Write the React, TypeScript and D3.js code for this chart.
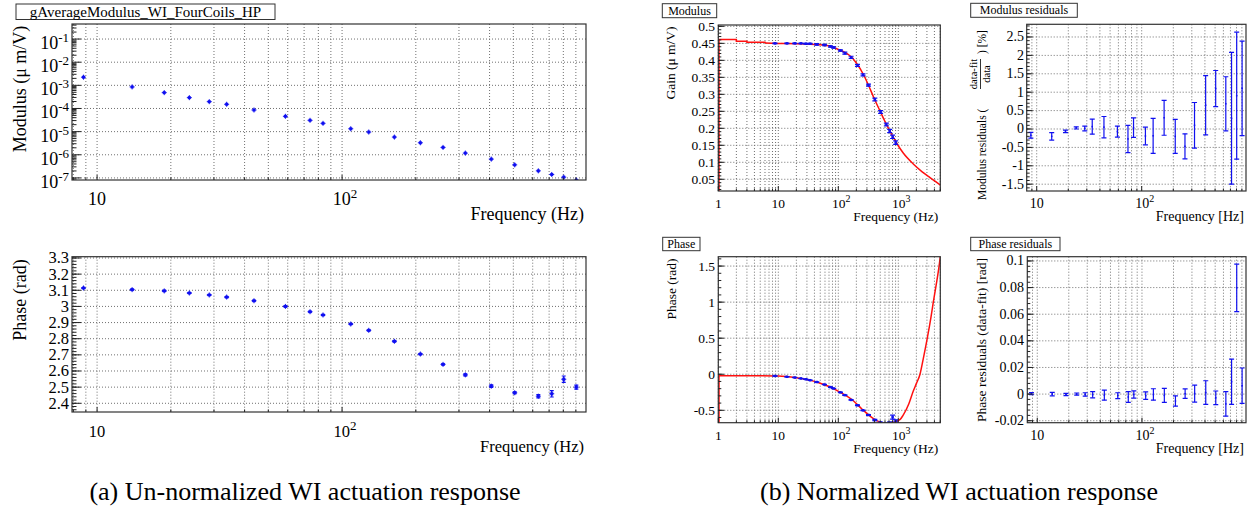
import React from 'react';
import * as d3 from 'd3';

// ---------- data ----------
const FREQ = [8.8, 13.9, 18.8, 23.8, 28.7, 33.8, 43.7, 58.7, 74.0, 83.6, 108.5, 128.5, 163.5, 208.7, 258.3, 318.5, 406.5, 506.6, 632.5, 717.5, 803.2, 904.0];
const RAW_MODULUS = [2.25e-3, 8.55e-4, 4.84e-4, 2.94e-4, 1.97e-4, 1.52e-4, 8.6e-5, 4.59e-5, 3.08e-5, 2.28e-5, 1.33e-5, 9.6e-6, 5.82e-6, 3.3e-6, 2.08e-6, 1.18e-6, 6.5e-7, 3.67e-7, 2.02e-7, 1.41e-7, 1.08e-7, 8.0e-8];
const RAW_PHASE = [3.114, 3.104, 3.096, 3.083, 3.071, 3.058, 3.035, 3.0, 2.967, 2.947, 2.891, 2.852, 2.784, 2.705, 2.641, 2.576, 2.506, 2.465, 2.444, 2.459, 2.549, 2.5];
const RAW_PHASE_ERR = [0.003, 0.003, 0.003, 0.002, 0.003, 0.003, 0.003, 0.003, 0.003, 0.003, 0.003, 0.003, 0.004, 0.003, 0.004, 0.006, 0.008, 0.006, 0.010, 0.020, 0.020, 0.012];

const NORM_GAIN = [0.450, 0.450, 0.450, 0.450, 0.449, 0.449, 0.447, 0.445, 0.441, 0.438, 0.429, 0.421, 0.409, 0.385, 0.357, 0.327, 0.285, 0.248, 0.211, 0.192, 0.175, 0.158];
const NORM_GAIN_ERR = [0.001, 0.001, 0.001, 0.001, 0.001, 0.001, 0.002, 0.002, 0.002, 0.002, 0.002, 0.003, 0.003, 0.003, 0.003, 0.003, 0.004, 0.004, 0.004, 0.005, 0.005, 0.005];
const NORM_PHASE = [-0.024, -0.035, -0.046, -0.058, -0.070, -0.083, -0.108, -0.143, -0.178, -0.197, -0.251, -0.290, -0.356, -0.430, -0.500, -0.565, -0.634, -0.668, -0.685, -0.681, -0.595, -0.649];
const NORM_PHASE_ERR = [0.002, 0.002, 0.002, 0.002, 0.002, 0.003, 0.004, 0.003, 0.004, 0.003, 0.003, 0.004, 0.005, 0.004, 0.004, 0.006, 0.009, 0.006, 0.010, 0.020, 0.028, 0.015];

const GAIN_STEP_F = [1, 2, 2, 3, 3, 6, 6];
const GAIN_STEP_V = [0.461, 0.461, 0.456, 0.456, 0.453, 0.453, 0.451];
const GAIN_FIT_F = [6, 10, 20, 30, 50, 73, 100, 130, 167, 200, 261, 300, 398, 496, 600, 776, 940, 1200, 1778, 2500, 3377, 4200, 5012];
const GAIN_FIT_V = [0.451, 0.4498, 0.449, 0.448, 0.446, 0.442, 0.432, 0.423, 0.409, 0.392, 0.359, 0.337, 0.287, 0.251, 0.220, 0.182, 0.156, 0.128, 0.095, 0.072, 0.055, 0.043, 0.033];
const PHASE_FIT_F = [1, 5, 10, 20, 30, 50, 70, 106, 178, 250, 338, 400, 500, 641, 800, 1075, 1200, 1500, 1778, 2000, 2300, 2600, 3042, 3500, 3831, 4300, 4766, 5012];
const PHASE_FIT_V = [-0.020, -0.022, -0.025, -0.049, -0.073, -0.124, -0.170, -0.247, -0.368, -0.485, -0.580, -0.625, -0.664, -0.684, -0.670, -0.625, -0.570, -0.410, -0.233, -0.130, 0.0, 0.21, 0.50, 0.79, 1.00, 1.25, 1.49, 1.63];

const MOD_RES = [-0.17, -0.20, -0.065, 0.03, 0.015, 0.065, 0.05, -0.07, -0.27, 0.035, -0.19, -0.185, 0.305, -0.20, -0.47, 0.10, 0.645, 1.10, 0.685, 0.29, 0.905, 1.105];
const MOD_RES_ERR = [0.08, 0.10, 0.035, 0.03, 0.065, 0.205, 0.29, 0.15, 0.37, 0.265, 0.24, 0.475, 0.475, 0.46, 0.34, 0.62, 0.805, 0.49, 0.735, 1.79, 1.725, 1.285];
const PHASE_RES = [0.0003, 0, -0.0003, 0, -0.0003, -0.0005, -0.0008, -0.0012, -0.0022, -0.0003, -0.0012, -0.0003, -0.001, -0.0052, 0.0003, 0.0004, 0.0011, -0.0028, -0.0074, 0.0093, 0.0798, 0.0063];
const PHASE_RES_ERR = [0.0008, 0.0013, 0.0008, 0.0008, 0.0013, 0.0023, 0.0038, 0.0022, 0.004, 0.0027, 0.0028, 0.0043, 0.0053, 0.0039, 0.0036, 0.0064, 0.0089, 0.0051, 0.0092, 0.017, 0.0178, 0.0133];

const MOD_EXP_TICKS = [-1, -2, -3, -4, -5, -6, -7];
const RAW_PHASE_TICKS = [2.4, 2.5, 2.6, 2.7, 2.8, 2.9, 3.0, 3.1, 3.2, 3.3];
const GAIN_TICKS = [0.05, 0.1, 0.15, 0.2, 0.25, 0.3, 0.35, 0.4, 0.45, 0.5];
const NPHASE_TICKS = [-0.5, 0, 0.5, 1, 1.5];
const MODRES_TICKS = [-1.5, -1, -0.5, 0, 0.5, 1, 1.5, 2, 2.5];
const PHASERES_TICKS = [-0.02, 0, 0.02, 0.04, 0.06, 0.08, 0.1];

const FONT = "'Liberation Serif', 'DejaVu Serif', serif";
const BLUE = '#1010f0';
const RED = '#ff1010';
const GRIDC = '#707070';

type Lbl = { v: number; base: string; exp?: string };

function logAll(lo: number, hi: number) {
  const out: number[] = [];
  for (let d = Math.floor(Math.log10(lo)) - 1; d <= Math.ceil(Math.log10(hi)); d++) {
    for (let k = 1; k <= 9; k++) {
      const v = k * Math.pow(10, d);
      if (v >= lo * 0.9999 && v <= hi * 1.0001) out.push(v);
    }
  }
  return out;
}
function subTicks(major: number[], lo: number, hi: number, n: number) {
  const step = (major[1] - major[0]) / n;
  const out: number[] = [];
  const start = Math.ceil((lo - major[0]) / step - 1e-9);
  for (let i = start; major[0] + i * step <= hi + 1e-9; i++) out.push(major[0] + i * step);
  return out;
}

type PanelProps = {
  id: string; x0: number; y0: number; x1: number; y1: number;
  xDom: [number, number]; yLog?: boolean; yDom: [number, number];
  yMajor: number[]; yMinor: number[]; yLabels: Lbl[]; xLabels: Lbl[];
  fs: number; supFs: number; supDy: number;
  yTick: number; xTick: number; yLabRight: number; yLabDy: number; xLabBase: number;
  xTitle: string; xTitleBase: number;
  children?: (x: (v: number) => number, y: (v: number) => number) => React.ReactNode;
};

function Panel(p: PanelProps) {
  const x = d3.scaleLog().domain(p.xDom).range([p.x0, p.x1]);
  const y = (p.yLog ? d3.scaleLog() : d3.scaleLinear()).domain(p.yDom).range([p.y1, p.y0]) as any;
  const xs = logAll(p.xDom[0], p.xDom[1]);
  const xMaj = xs.filter((v) => Math.abs(Math.log10(v) - Math.round(Math.log10(v))) < 1e-6);
  const yMajor = p.yMajor;
  return (
    <g>
      <defs>
        <clipPath id={p.id}>
          <rect x={p.x0} y={p.y0} width={p.x1 - p.x0} height={p.y1 - p.y0} />
        </clipPath>
      </defs>
      <g stroke={GRIDC} strokeWidth={1} strokeDasharray="1,2">
        {xs.map((v, i) => (
          <line key={'gx' + i} x1={x(v)} x2={x(v)} y1={p.y0} y2={p.y1} />
        ))}
        {yMajor.map((v, i) => (
          <line key={'gy' + i} x1={p.x0} x2={p.x1} y1={y(v)} y2={y(v)} />
        ))}
      </g>
      <g clipPath={`url(#${p.id})`}>{p.children ? p.children(x, y) : null}</g>
      <rect x={p.x0} y={p.y0} width={p.x1 - p.x0} height={p.y1 - p.y0} fill="none" stroke="#333" strokeWidth={1.2} />
      <g stroke="#222" strokeWidth={1}>
        {xs.map((v, i) => {
          const major = xMaj.includes(v);
          return <line key={'tx' + i} x1={x(v)} x2={x(v)} y1={p.y1} y2={p.y1 - (major ? p.xTick : p.xTick / 2)} />;
        })}
        {yMajor.map((v, i) => (
          <line key={'ty' + i} x1={p.x0} x2={p.x0 + p.yTick} y1={y(v)} y2={y(v)} />
        ))}
        {p.yMinor.map((v, i) => (
          <line key={'tm' + i} x1={p.x0} x2={p.x0 + p.yTick / 2} y1={y(v)} y2={y(v)} />
        ))}
      </g>
      <g fontSize={p.fs} fill="#000">
        {p.yLabels.map((l, i) => (
          <text key={'yl' + i} x={p.yLabRight} y={y(l.v) + p.yLabDy} textAnchor="end">
            <tspan>{l.base}</tspan>
            {l.exp ? (
              <tspan dy={-p.supDy} fontSize={p.supFs}>{l.exp}</tspan>
            ) : null}
          </text>
        ))}
        {p.xLabels.map((l, i) => (
          <text key={'xl' + i} x={x(l.v) + (l.exp ? 3 : 0)} y={p.xLabBase} textAnchor="middle">
            <tspan>{l.base}</tspan>
            {l.exp ? (
              <tspan dy={-p.supDy} fontSize={p.supFs}>{l.exp}</tspan>
            ) : null}
          </text>
        ))}
        <text x={p.x1 - 2} y={p.xTitleBase} textAnchor="end">{p.xTitle}</text>
      </g>
    </g>
  );
}

function ErrBars(props: {
  x: (v: number) => number; y: (v: number) => number;
  xs: number[]; ys: number[]; es: number[]; cap: number; color: string; marker?: number; width?: number;
}) {
  const { x, y, xs, ys, es, cap, color } = props;
  const m = props.marker ?? 0;
  return (
    <g stroke={color} strokeWidth={props.width ?? 1.2} fill={color}>
      {xs.map((f, i) => {
        const cx = x(f);
        const top = y(ys[i] + es[i]);
        const bot = y(ys[i] - es[i]);
        const cy = y(ys[i]);
        return (
          <g key={i}>
            <line x1={cx} x2={cx} y1={top} y2={bot} />
            <line x1={cx - cap} x2={cx + cap} y1={top} y2={top} />
            <line x1={cx - cap} x2={cx + cap} y1={bot} y2={bot} />
            {m > 0 ? <rect x={cx - m / 2} y={cy - m / 2} width={m} height={m} stroke="none" /> : null}
          </g>
        );
      })}
    </g>
  );
}

function CrossMarkers(props: { x: (v: number) => number; y: (v: number) => number; xs: number[]; ys: number[] }) {
  const { x, y, xs, ys } = props;
  return (
    <g stroke={BLUE} fill={BLUE} strokeWidth={1}>
      {xs.map((f, i) => {
        const cx = x(f);
        const cy = y(ys[i]);
        return (
          <g key={i}>
            <rect x={cx - 1.5} y={cy - 1.5} width={3} height={3} stroke="none" />
            <line x1={cx - 2.5} x2={cx + 2.5} y1={cy} y2={cy} />
            <line x1={cx} x2={cx} y1={cy - 2.5} y2={cy + 2.5} />
          </g>
        );
      })}
    </g>
  );
}

function Fit(props: {
  x: (v: number) => number; y: (v: number) => number; fs: number[]; vs: number[]; yBottom: number;
  stepF?: number[]; stepV?: number[];
}) {
  const { x, y, fs, vs } = props;
  const pts: [number, number][] = fs.map((f, i) => [x(f), y(vs[i])]);
  const smooth = d3.line().curve(d3.curveMonotoneX)(pts) || '';
  let step = '';
  let first = pts[0];
  if (props.stepF && props.stepV) {
    const sp: [number, number][] = props.stepF.map((f, i) => [x(f), y(props.stepV![i])]);
    step = d3.line()(sp) || '';
    first = sp[0];
  }
  return (
    <g fill="none" stroke={RED} strokeWidth={1.5}>
      <line x1={first[0] + 0.7} x2={first[0] + 0.7} y1={props.yBottom} y2={first[1]} />
      {step ? <path d={step} /> : null}
      <path d={smooth} />
    </g>
  );
}

function TitleBox(props: { x: number; y: number; w: number; h: number; text: string; fs: number }) {
  return (
    <g>
      <rect x={props.x} y={props.y} width={props.w} height={props.h} fill="#fff" stroke="#333" strokeWidth={1} />
      <text x={props.x + props.w / 2} y={props.y + props.h / 2 + props.fs * 0.34} fontSize={props.fs} textAnchor="middle">
        {props.text}
      </text>
    </g>
  );
}

function VLabel(props: { x: number; y: number; fs: number; text: string }) {
  return (
    <text transform={`translate(${props.x},${props.y}) rotate(-90)`} fontSize={props.fs} textAnchor="middle">
      {props.text}
    </text>
  );
}

export default function App() {
  const L = { x0: 72, x1: 586 };
  const xLabL: Lbl[] = [{ v: 10, base: '10' }, { v: 100, base: '10', exp: '2' }];
  const xLabN: Lbl[] = [{ v: 1, base: '1' }, { v: 10, base: '10' }, { v: 100, base: '10', exp: '2' }, { v: 1000, base: '10', exp: '3' }];

  const modDom: [number, number] = [Math.pow(10, -7.09), Math.pow(10, -0.35)];
  const modMajor = MOD_EXP_TICKS.map((e) => Math.pow(10, e));
  const modMinor = logAll(modDom[0], modDom[1]).filter((v) => !modMajor.some((m) => Math.abs(m - v) / m < 1e-6));

  const rpDom: [number, number] = [2.346, 3.308];
  const gDom: [number, number] = [0.0155, 0.504];
  const npDom: [number, number] = [-0.672, 1.63];
  const mrDom: [number, number] = [-1.685, 2.845];
  const prDom: [number, number] = [-0.0215, 0.1032];

  const fmt = (v: number) => String(+v.toFixed(4));

  return (
    <svg width={1247} height={510} viewBox="0 0 1247 510"
      style={{ position: 'absolute', left: 0, top: 0, display: 'block', fontFamily: FONT }}>
      <rect x={0} y={0} width={1247} height={510} fill="#fff" />
      {/* (a) top: modulus */}
      <Panel id="c1" x0={L.x0} x1={L.x1} y0={24} y1={180} xDom={[7.9, 990]} yLog yDom={modDom}
        yMajor={modMajor} yMinor={modMinor}
        yLabels={MOD_EXP_TICKS.map((e) => ({ v: Math.pow(10, e), base: '10', exp: String(e) }))}
        xLabels={xLabL} fs={18} supFs={13} supDy={7} yTick={9} xTick={5} yLabRight={69} yLabDy={10}
        xLabBase={205} xTitle="Frequency (Hz)" xTitleBase={219.5}>
        {(x, y) => <CrossMarkers x={x} y={y} xs={FREQ} ys={RAW_MODULUS} />}
      </Panel>
      <TitleBox x={16} y={4} w={259} h={15.5} text="gAverageModulus_WI_FourCoils_HP" fs={15} />
      <VLabel x={26} y={89} fs={18} text="Modulus (μ m/V)" />

      {/* (a) bottom: phase */}
      <Panel id="c2" x0={L.x0} x1={L.x1} y0={256.7} y1={412} xDom={[7.9, 990]} yDom={rpDom}
        yMajor={RAW_PHASE_TICKS} yMinor={subTicks(RAW_PHASE_TICKS, rpDom[0], rpDom[1], 5)}
        yLabels={RAW_PHASE_TICKS.map((v) => ({ v, base: fmt(v) }))}
        xLabels={xLabL} fs={16.5} supFs={13} supDy={7} yTick={9} xTick={5} yLabRight={69} yLabDy={5.5}
        xLabBase={436.5} xTitle="Frequency (Hz)" xTitleBase={451.5}>
        {(x, y) => (
          <g>
            <ErrBars x={x} y={y} xs={FREQ} ys={RAW_PHASE} es={RAW_PHASE_ERR} cap={2} color={BLUE} />
            <CrossMarkers x={x} y={y} xs={FREQ} ys={RAW_PHASE} />
          </g>
        )}
      </Panel>
      <VLabel x={26} y={300} fs={18} text="Phase (rad)" />

      {/* (b) gain */}
      <Panel id="c3" x0={718.3} x1={940.3} y0={25} y1={191} xDom={[1, 5012]} yDom={gDom}
        yMajor={GAIN_TICKS} yMinor={subTicks(GAIN_TICKS, gDom[0], gDom[1], 5)}
        yLabels={GAIN_TICKS.map((v) => ({ v, base: fmt(v) }))}
        xLabels={xLabN} fs={13.5} supFs={10} supDy={6} yTick={6} xTick={5} yLabRight={715} yLabDy={4.5}
        xLabBase={208} xTitle="Frequency (Hz)" xTitleBase={221}>
        {(x, y) => (
          <g>
            <Fit x={x} y={y} fs={GAIN_FIT_F} vs={GAIN_FIT_V} yBottom={191} stepF={GAIN_STEP_F} stepV={GAIN_STEP_V} />
            <ErrBars x={x} y={y} xs={FREQ} ys={NORM_GAIN} es={NORM_GAIN_ERR} cap={2.5} color={BLUE} marker={2.5} />
          </g>
        )}
      </Panel>
      <TitleBox x={662.3} y={3.7} w={54.4} h={14} text="Modulus" fs={12} />
      <VLabel x={675} y={63} fs={13.5} text="Gain (μ m/V)" />

      {/* (b) phase */}
      <Panel id="c4" x0={718.3} x1={940.3} y0={256.7} y1={422.7} xDom={[1, 5012]} yDom={npDom}
        yMajor={NPHASE_TICKS} yMinor={subTicks(NPHASE_TICKS, npDom[0], npDom[1], 5)}
        yLabels={NPHASE_TICKS.map((v) => ({ v, base: fmt(v) }))}
        xLabels={xLabN} fs={13.5} supFs={10} supDy={6} yTick={6} xTick={5} yLabRight={715} yLabDy={4.5}
        xLabBase={440} xTitle="Frequency (Hz)" xTitleBase={453}>
        {(x, y) => (
          <g>
            <Fit x={x} y={y} fs={PHASE_FIT_F} vs={PHASE_FIT_V} yBottom={422.7} />
            <ErrBars x={x} y={y} xs={FREQ} ys={NORM_PHASE} es={NORM_PHASE_ERR} cap={2.5} color={BLUE} marker={2.5} />
          </g>
        )}
      </Panel>
      <TitleBox x={662.7} y={237.3} w={37.3} h={13.4} text="Phase" fs={12} />
      <VLabel x={676} y={289} fs={13.5} text="Phase (rad)" />

      {/* (b) modulus residuals */}
      <Panel id="c5" x0={1026.7} x1={1246} y0={24.3} y1={191} xDom={[8.03, 985]} yDom={mrDom}
        yMajor={MODRES_TICKS} yMinor={subTicks(MODRES_TICKS, mrDom[0], mrDom[1], 5)}
        yLabels={MODRES_TICKS.map((v) => ({ v, base: fmt(v) }))}
        xLabels={xLabL} fs={14} supFs={10} supDy={6} yTick={6} xTick={5} yLabRight={1024} yLabDy={4.5}
        xLabBase={208} xTitle="Frequency [Hz]" xTitleBase={221}>
        {(x, y) => <ErrBars x={x} y={y} xs={FREQ} ys={MOD_RES} es={MOD_RES_ERR} cap={2.5} color={BLUE} marker={1.5} />}
      </Panel>
      <TitleBox x={970.7} y={3.3} w={106.6} h={14} text="Modulus residuals" fs={12} />
      <g transform="translate(986,200) rotate(-90)">
        <text x={0} y={0} fontSize={11.5}>Modulus residuals (</text>
        <text x={126} y={-9} fontSize={10.5} textAnchor="middle">data-fit</text>
        <line x1={111} x2={141} y1={-5.5} y2={-5.5} stroke="#000" strokeWidth={0.8} />
        <text x={126} y={3.5} fontSize={10.5} textAnchor="middle">data</text>
        <text x={146} y={0} fontSize={11.5}>) [%]</text>
      </g>

      {/* (b) phase residuals */}
      <Panel id="c6" x0={1027.3} x1={1246} y0={256.7} y1={422.7} xDom={[8.03, 985]} yDom={prDom}
        yMajor={PHASERES_TICKS} yMinor={subTicks(PHASERES_TICKS, prDom[0], prDom[1], 5)}
        yLabels={PHASERES_TICKS.map((v) => ({ v, base: fmt(v) }))}
        xLabels={xLabL} fs={14} supFs={10} supDy={6} yTick={6} xTick={5} yLabRight={1024} yLabDy={4.5}
        xLabBase={440} xTitle="Frequency [Hz]" xTitleBase={453}>
        {(x, y) => <ErrBars x={x} y={y} xs={FREQ} ys={PHASE_RES} es={PHASE_RES_ERR} cap={2.5} color={BLUE} marker={1.5} />}
      </Panel>
      <TitleBox x={970.7} y={237.3} w={89.3} h={13.4} text="Phase residuals" fs={12} />
      <VLabel x={986} y={340} fs={13.5} text="Phase residuals (data-fit) [rad]" />

      {/* captions */}
      <text x={305} y={500} fontSize={26} textAnchor="middle">(a) Un-normalized WI actuation response</text>
      <text x={959} y={500} fontSize={26} textAnchor="middle">(b) Normalized WI actuation response</text>
    </svg>
  );
}
